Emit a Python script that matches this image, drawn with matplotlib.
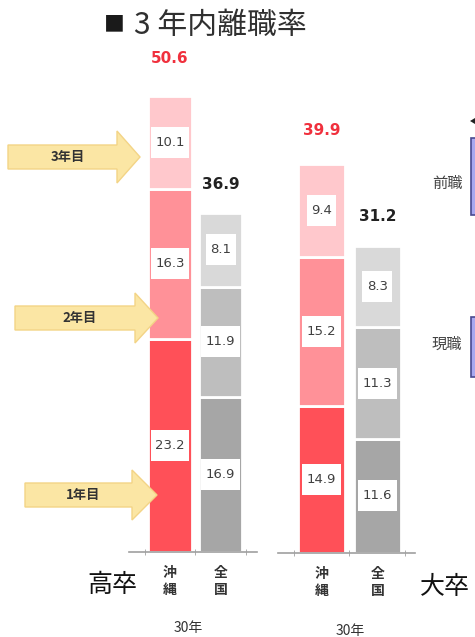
import matplotlib
matplotlib.use('Agg')
import matplotlib.pyplot as plt
from matplotlib.patches import Polygon, Rectangle

plt.rcParams['font.family'] = ['Noto Sans CJK JP', 'DejaVu Sans']

# data
categories = ['沖\n縄', '全\n国']
years = ['1年目', '2年目', '3年目']
hs_okinawa = [23.2, 16.3, 10.1]
hs_zenkoku = [16.9, 11.9, 8.1]
hs_totals = [50.6, 36.9]
univ_okinawa = [14.9, 15.2, 9.4]
univ_zenkoku = [11.6, 11.3, 8.3]
univ_totals = [39.9, 31.2]

red_cols = ['#ff5058', '#ff9198', '#ffc8cc']
gray_cols = ['#a6a6a6', '#bebebe', '#d9d9d9']
total_cols = ['#f0303d', '#222222']

W, H = 475, 637
fig = plt.figure(figsize=(W / 100, H / 100), dpi=100)


def rect(l, t, r, b):
    return [l / W, 1 - b / H, (r - l) / W, (b - t) / H]


def fx(x):
    return x / W


def fy(y):
    return 1 - y / H


value_texts = []


def draw_group(ax, okinawa, zenkoku, totals, width):
    for i, segs in enumerate([okinawa, zenkoku]):
        cols = red_cols if i == 0 else gray_cols
        bottom = 0
        for j, v in enumerate(segs):
            ax.bar(i, v, bottom=bottom, width=width, color=cols[j],
                   edgecolor='white', linewidth=2, zorder=2)
            t = ax.text(i, bottom + v / 2, f'{v}', ha='center', va='center',
                        fontsize=9.5, color='#404040', family=['DejaVu Sans'],
                        zorder=6)
            value_texts.append((ax, t))
            bottom += v
        ax.text(i, totals[i] + 3.0, f'{totals[i]}', ha='center', va='center',
                fontsize=11, fontweight='bold', color=total_cols[i],
                family=['DejaVu Sans'])
    ax.set_xticks([0, 1])
    ax.set_xticklabels(categories, fontsize=10, fontweight='bold',
                       color='#333333', linespacing=1.3)
    ax.tick_params(axis='x', which='major', length=0, pad=10)
    ax.set_xticks([-0.5, 0.5, 1.5], minor=True)
    ax.tick_params(axis='x', which='minor', length=4, direction='inout',
                   color='#a0a0a0')
    ax.set_yticks([])
    for s in ['top', 'right', 'left']:
        ax.spines[s].set_visible(False)
    ax.spines['bottom'].set_color('#a0a0a0')
    ax.spines['bottom'].set_linewidth(1.2)
    ax.patch.set_alpha(0)


# high school
ax1 = fig.add_axes(rect(129, 46, 257, 552))
draw_group(ax1, hs_okinawa, hs_zenkoku, hs_totals, 0.86)
ax1.set_xlim(-0.81, 1.72)
ax1.set_ylim(0, (552 - 46) / 9.2)

# university
ax2 = fig.add_axes(rect(278, 46, 415, 553))
draw_group(ax2, univ_okinawa, univ_zenkoku, univ_totals, 0.84)
ax2.set_xlim(-0.777, 1.67)
ax2.set_ylim(0, (553 - 46) / 9.85)

# white boxes behind the value labels (taller than the side padding)
fig.canvas.draw()
renderer = fig.canvas.get_renderer()
for ax, t in value_texts:
    bb = t.get_window_extent(renderer)
    cy = (bb.y0 + bb.y1) / 2
    inv = ax.transData.inverted()
    x0, y0 = inv.transform((bb.x0 - 4.5, cy - 15.5))
    x1, y1 = inv.transform((bb.x1 + 4.5, cy + 15.5))
    ax.add_patch(Rectangle((x0, y0), x1 - x0, y1 - y0, fc='white',
                           ec='none', zorder=4))

# title
fig.text(fx(114), fy(24), '■', fontsize=15, color='#1a1a1a',
         ha='center', va='center')
fig.text(fx(134), fy(25), '3 年内離職率', fontsize=21.5, color='#303030',
         ha='left', va='center')

# year arrows
arrows = [(years[2], 8, 117, 140, 157, 26),
          (years[1], 15, 135, 158, 318, 25),
          (years[0], 25, 132, 157, 495, 25)]
for label, x0, xb, xt, yc, hh in arrows:
    bh = 12
    pts = [(x0, yc - bh), (xb, yc - bh), (xb, yc - hh), (xt, yc),
           (xb, yc + hh), (xb, yc + bh), (x0, yc + bh)]
    pts = [(fx(x), fy(y)) for x, y in pts]
    fig.patches.append(Polygon(pts, closed=True, fc='#fbe6a4', ec='#f3d486',
                               lw=1, transform=fig.transFigure, figure=fig))
    fig.text(fx((x0 + xb) / 2 + 5), fy(yc), label, ha='center', va='center',
             fontsize=9.5, fontweight='bold', color='#333333')

# group labels
fig.text(fx(112), fy(585), '高卒', fontsize=18, ha='center', va='center',
         color='#111111')
fig.text(fx(445), fy(587), '大卒', fontsize=18, ha='center', va='center',
         color='#111111')
fig.text(fx(188), fy(628), '30年', fontsize=10, ha='center', va='center',
         color='#333333')
fig.text(fx(350), fy(631), '30年', fontsize=10, ha='center', va='center',
         color='#333333')

# right side legend (cut off)
fig.text(fx(447), fy(183), '前職', fontsize=11, ha='center', va='center',
         color='#444444')
fig.text(fx(447), fy(344), '現職', fontsize=11, ha='center', va='center',
         color='#444444')
for t, b in [(138, 215), (317, 377)]:
    fig.patches.append(Rectangle((fx(471), fy(b)), fx(10), (b - t) / H,
                                 fc='#a8a8f0', ec='#4a4a90', lw=1.2,
                                 transform=fig.transFigure, figure=fig))
fig.patches.append(Polygon([(fx(470), fy(121)), (fx(475), fy(118)),
                            (fx(475), fy(124))], closed=True, fc='#222222',
                           ec='none', transform=fig.transFigure, figure=fig))

fig.savefig('out.png', dpi=100)
